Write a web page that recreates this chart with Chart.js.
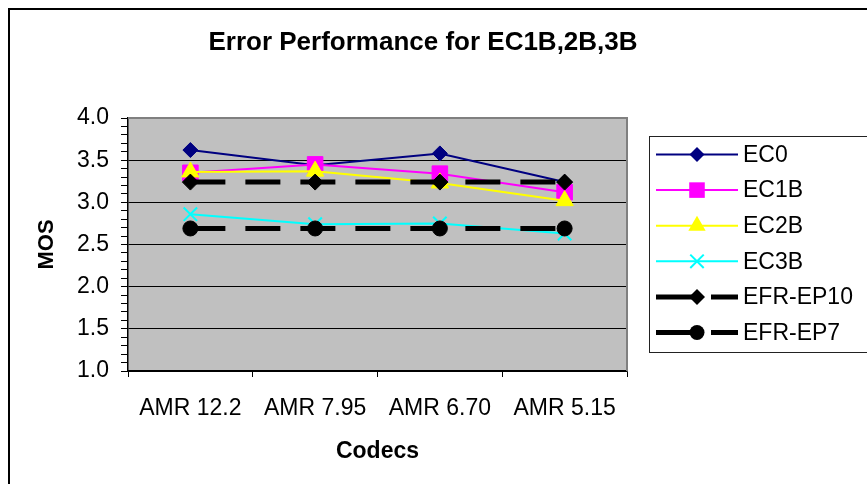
<!DOCTYPE html>
<html>
<head>
<meta charset="utf-8">
<script src="https://cdn.jsdelivr.net/npm/chart.js@4/dist/chart.umd.min.js"></script>
<style>
  body { margin: 0; background: #fff; }
  canvas { display: block; }
</style>
</head>
<body>
<canvas id="mosChart" width="867" height="484"></canvas>
<script>
// Chart data
const codecs = ["AMR 12.2", "AMR 7.95", "AMR 6.70", "AMR 5.15"];
const ec0 = [3.62, 3.44, 3.58, 3.24];
const ec1b = [3.35, 3.45, 3.34, 3.12];
const ec2b = [3.36, 3.37, 3.23, 3.02];
const ec3b = [2.86, 2.74, 2.75, 2.63];
const efrEp10 = [3.24, 3.24, 3.24, 3.24];
const efrEp7 = [2.69, 2.69, 2.69, 2.69];
const seriesNames = ["EC0", "EC1B", "EC2B", "EC3B", "EFR-EP10", "EFR-EP7"];

const chartTitle = "Error Performance for EC1B,2B,3B";
const font = "'Liberation Sans', Arial, sans-serif";

function makeSeries(i, data, color, style, radius, width, dash) {
    return {
        label: seriesNames[i],
        data: data,
        borderColor: color,
        backgroundColor: color,
        borderWidth: width,
        borderDash: dash || [],
        pointStyle: style,
        pointRadius: radius,
        pointHoverRadius: radius,
        pointBackgroundColor: color,
        pointBorderColor: color,
        pointBorderWidth: style === "crossRot" ? 2 : 1,
        tension: 0,
        fill: false,
        order: 10 - i   // later series drawn on top, like Excel
    };
}

// small marker painter for the legend samples
function drawMarker(ctx, style, x, y, r, color, bw) {
    ctx.save();
    ctx.fillStyle = color;
    ctx.strokeStyle = color;
    ctx.lineWidth = bw;
    ctx.setLineDash([]);
    ctx.beginPath();
    if (style === "rectRot") {
        ctx.moveTo(x, y - r); ctx.lineTo(x + r, y); ctx.lineTo(x, y + r); ctx.lineTo(x - r, y);
        ctx.closePath(); ctx.fill();
    } else if (style === "rect") {
        const s = r * Math.SQRT1_2;
        ctx.rect(x - s, y - s, 2 * s, 2 * s); ctx.fill();
    } else if (style === "triangle") {
        ctx.moveTo(x, y - r);
        ctx.lineTo(x + r * Math.sin(Math.PI / 3), y + r / 2);
        ctx.lineTo(x - r * Math.sin(Math.PI / 3), y + r / 2);
        ctx.closePath(); ctx.fill();
    } else if (style === "crossRot") {
        const s = r * Math.SQRT1_2;
        ctx.moveTo(x - s, y - s); ctx.lineTo(x + s, y + s);
        ctx.moveTo(x + s, y - s); ctx.lineTo(x - s, y + s);
        ctx.stroke();
    } else {
        ctx.arc(x, y, r, 0, Math.PI * 2); ctx.fill();
    }
    ctx.restore();
}

const framePlugin = {
    id: "frame",
    beforeDraw(chart) {
        const ctx = chart.ctx;
        const a = chart.chartArea;
        ctx.save();
        ctx.fillStyle = "#fff";
        ctx.fillRect(0, 0, chart.width, chart.height);
        // outer chart border
        ctx.strokeStyle = "#000";
        ctx.lineWidth = 2;
        ctx.beginPath();
        ctx.moveTo(9, chart.height + 5);
        ctx.lineTo(9, 9);
        ctx.lineTo(chart.width + 5, 9);
        ctx.stroke();
        // grey plot area
        ctx.fillStyle = "#c0c0c0";
        ctx.fillRect(a.left, a.top, a.right - a.left, a.bottom - a.top);
        ctx.restore();
    },
    afterDatasetsDraw(chart) {
        const ctx = chart.ctx;
        const a = chart.chartArea;
        ctx.save();
        ctx.strokeStyle = "#808080";
        ctx.lineWidth = 2;
        ctx.beginPath();
        ctx.moveTo(a.left, a.top);
        ctx.lineTo(a.right, a.top);
        ctx.lineTo(a.right, a.bottom);
        ctx.stroke();
        ctx.restore();
    },
    afterDraw(chart) {
        const ctx = chart.ctx;
        ctx.save();
        // title
        ctx.fillStyle = "#000";
        ctx.font = "bold 26px " + font;
        ctx.textAlign = "center";
        ctx.textBaseline = "middle";
        ctx.fillText(chartTitle, 423, 43);

        // legend box (right edge runs off the picture)
        ctx.strokeStyle = "#222";
        ctx.lineWidth = 1;
        ctx.strokeRect(649.5, 136.5, 219, 216);
        ctx.font = "23px " + font;
        ctx.textAlign = "left";
        chart.data.datasets.forEach((ds, i) => {
            const y = 154.5 + i * 35.6;
            ctx.strokeStyle = ds.borderColor;
            ctx.lineWidth = ds.borderWidth;
            ctx.setLineDash(ds.borderDash.length ? [37, 18] : []);
            ctx.beginPath();
            ctx.moveTo(656, y);
            ctx.lineTo(738, y);
            ctx.stroke();
            drawMarker(ctx, ds.pointStyle, 697, y, ds.pointRadius, ds.pointBackgroundColor, ds.pointBorderWidth);
            ctx.fillStyle = "#000";
            ctx.fillText(ds.label, 743, y + 1);
        });
        ctx.restore();
    }
};

function isMajor(v) {
    return Math.abs(v * 2 - Math.round(v * 2)) < 1e-6;
}

new Chart(document.getElementById("mosChart"), {
    type: "line",
    data: {
        labels: codecs,
        datasets: [
            makeSeries(0, ec0, "#000080", "rectRot", 7.5, 2),
            makeSeries(1, ec1b, "#ff00ff", "rect", 11, 2),
            makeSeries(2, ec2b, "#ffff00", "triangle", 10, 2),
            makeSeries(3, ec3b, "#00ffff", "crossRot", 9.5, 2),
            makeSeries(4, efrEp10, "#000000", "rectRot", 8, 5, [35, 20]),
            makeSeries(5, efrEp7, "#000000", "circle", 7.5, 5, [35, 20])
        ]
    },
    options: {
        responsive: false,
        animation: false,
        devicePixelRatio: 1,
        layout: { padding: { top: 118, left: 0, right: 240, bottom: 0 } },
        plugins: {
            legend: { display: false },
            title: { display: false },
            tooltip: { enabled: false }
        },
        scales: {
            x: {
                offset: true,
                afterFit(scale) { scale.height = 113; },
                grid: {
                    offset: true,
                    drawOnChartArea: false,
                    color: "#000",
                    tickLength: 6
                },
                border: { color: "#000", width: 1.5 },
                ticks: {
                    color: "#000",
                    font: { family: font, size: 23 },
                    padding: 18,
                    maxRotation: 0,
                    autoSkip: false
                },
                title: {
                    display: true,
                    text: "Codecs",
                    color: "#000",
                    font: { family: font, size: 23, weight: "bold" },
                    padding: { top: 0, bottom: 19 }
                }
            },
            y: {
                min: 1,
                max: 4,
                afterFit(scale) { scale.width = 128; },
                grid: {
                    color: (c) => (isMajor(c.tick.value) && c.tick.value < 3.99) ? "#000" : "rgba(0,0,0,0)",
                    tickColor: "#000",
                    tickLength: 7,
                    lineWidth: 1
                },
                border: { color: "#000", width: 1.5 },
                ticks: {
                    stepSize: 0.1,
                    autoSkip: false,
                    color: "#000",
                    font: { family: font, size: 23 },
                    padding: 12,
                    callback: (v) => isMajor(v) ? Number(v).toFixed(1) : ""
                },
                title: {
                    display: true,
                    text: "MOS",
                    color: "#000",
                    font: { family: font, size: 22, weight: "bold" },
                    padding: { top: 34, bottom: 0 }
                }
            }
        }
    },
    plugins: [framePlugin]
});
</script>
</body>
</html>
